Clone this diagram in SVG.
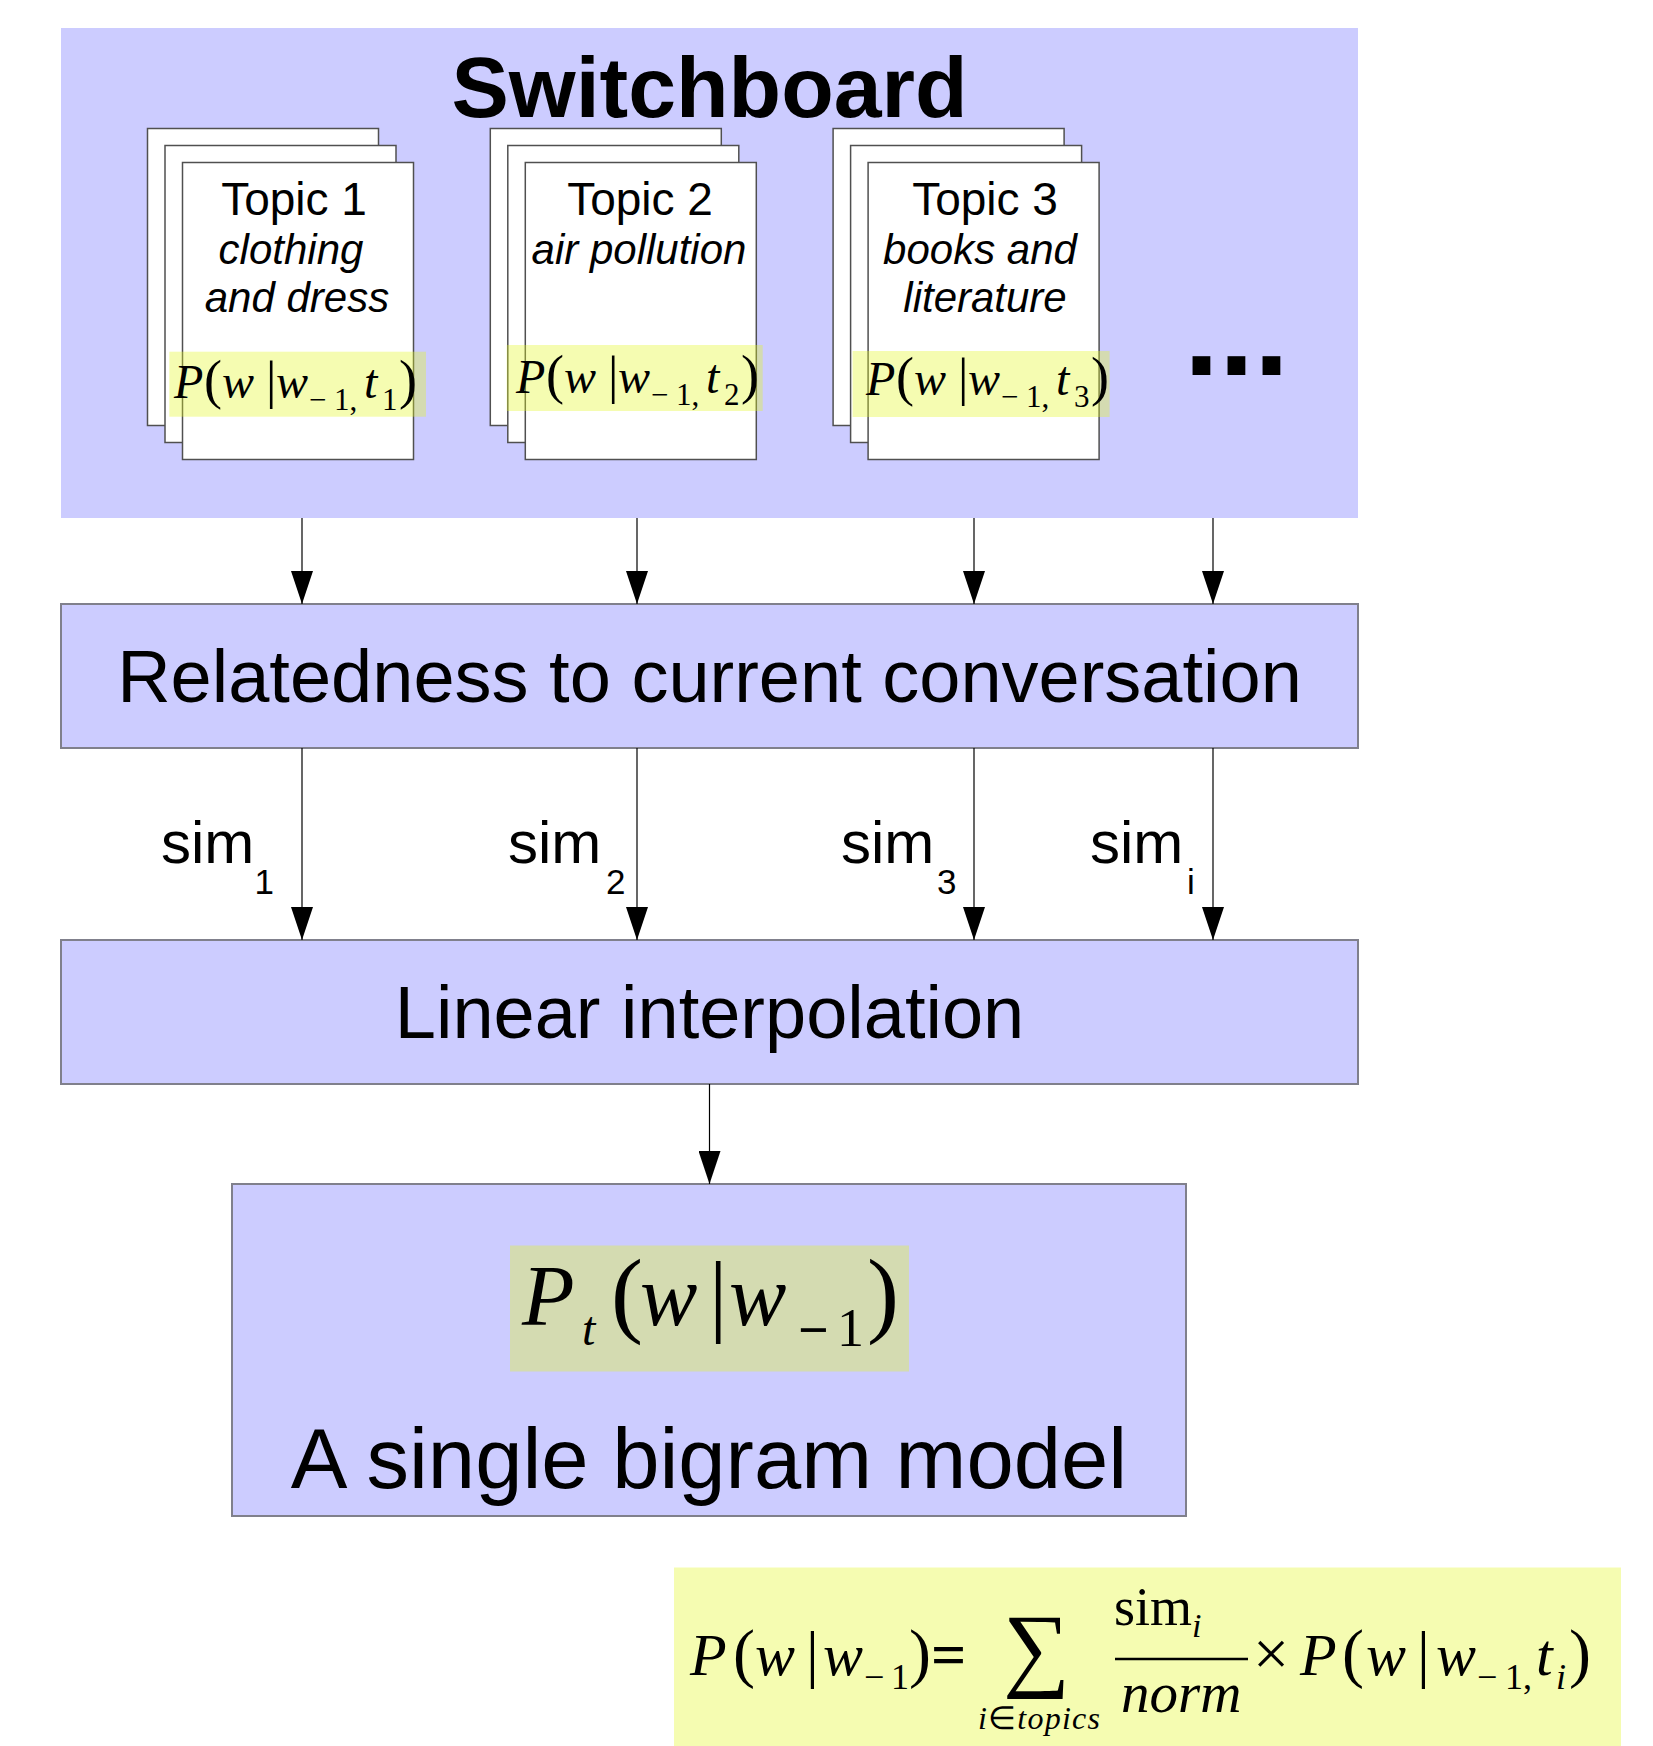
<svg xmlns="http://www.w3.org/2000/svg" width="1653" height="1746" viewBox="0 0 1653 1746">
<defs>
<style>
.panel{fill:#ccccff}
.box{fill:#ccccff;stroke:#80808c;stroke-width:2}
.card{fill:#ffffff;stroke:#505050;stroke-width:1.5}
.hl{fill:#e3f61f;fill-opacity:0.35}
.sans{font-family:"Liberation Sans",Arial,sans-serif;fill:#000}
.serif{font-family:"Liberation Serif","Times New Roman",serif;fill:#000}
.it{font-style:italic}
.mid{text-anchor:middle}
.conn line{stroke:#000;stroke-width:1.2}
</style>
<marker id="ah" viewBox="0 0 33 22" refX="33" refY="11" markerWidth="33" markerHeight="22" markerUnits="userSpaceOnUse" orient="auto">
<path d="M0,0 L33,11 L0,22 Z" fill="#000"/>
</marker>
</defs>
<rect width="1653" height="1746" fill="#ffffff"/>

<g id="switchboard">
<rect class="panel" x="61" y="28" width="1297" height="490"/>
<text class="sans mid" x="709.5" y="117" font-size="86" font-weight="bold">Switchboard</text>
<text class="sans" x="1184" y="375" font-size="126" font-weight="bold">...</text>
</g>

<g id="topic1">
<rect class="card" x="147.5" y="128.5" width="231" height="297"/>
<rect class="card" x="165" y="145.5" width="231" height="297"/>
<rect class="card" x="182.5" y="162.5" width="231" height="297"/>
<text class="sans mid" x="294" y="215" font-size="46">Topic 1</text>
<text class="sans mid it" x="291" y="263.5" font-size="42">clothing</text>
<text class="sans mid it" x="297" y="311.5" font-size="42">and dress</text>
<rect class="hl" x="169.3" y="351.7" width="256.7" height="65"/>
<text class="serif" font-size="48"><tspan class="it" x="174" y="398">P</tspan><tspan x="204" y="398" font-size="54">(</tspan><tspan class="it" x="222" y="398">w</tspan><tspan x="266" y="398" font-size="52">|</tspan><tspan class="it" x="276" y="398">w</tspan><tspan x="309" y="410" font-size="31">−</tspan><tspan x="334" y="410" font-size="31">1,</tspan><tspan class="it" x="364" y="398">t</tspan><tspan x="382" y="410" font-size="31">1</tspan><tspan x="399" y="398" font-size="54">)</tspan></text>
</g>

<g id="topic2">
<rect class="card" x="490.3" y="128.5" width="231" height="297"/>
<rect class="card" x="507.8" y="145.5" width="231" height="297"/>
<rect class="card" x="525.3" y="162.5" width="231" height="297"/>
<text class="sans mid" x="640" y="215" font-size="46">Topic 2</text>
<text class="sans mid it" x="639" y="263.5" font-size="42">air pollution</text>
<rect class="hl" x="506.7" y="345" width="256" height="66"/>
<g transform="translate(342,-5)">
<text class="serif" font-size="48"><tspan class="it" x="174" y="398">P</tspan><tspan x="204" y="398" font-size="54">(</tspan><tspan class="it" x="222" y="398">w</tspan><tspan x="266" y="398" font-size="52">|</tspan><tspan class="it" x="276" y="398">w</tspan><tspan x="309" y="410" font-size="31">−</tspan><tspan x="334" y="410" font-size="31">1,</tspan><tspan class="it" x="364" y="398">t</tspan><tspan x="382" y="410" font-size="31">2</tspan><tspan x="399" y="398" font-size="54">)</tspan></text>
</g>
</g>

<g id="topic3">
<rect class="card" x="833.1" y="128.5" width="231" height="297"/>
<rect class="card" x="850.6" y="145.5" width="231" height="297"/>
<rect class="card" x="868.1" y="162.5" width="231" height="297"/>
<text class="sans mid" x="985" y="215" font-size="46">Topic 3</text>
<text class="sans mid it" x="980" y="263.5" font-size="42">books and</text>
<text class="sans mid it" x="985" y="311.5" font-size="42">literature</text>
<rect class="hl" x="852.6" y="351" width="257" height="66"/>
<g transform="translate(692,-3)">
<text class="serif" font-size="48"><tspan class="it" x="174" y="398">P</tspan><tspan x="204" y="398" font-size="54">(</tspan><tspan class="it" x="222" y="398">w</tspan><tspan x="266" y="398" font-size="52">|</tspan><tspan class="it" x="276" y="398">w</tspan><tspan x="309" y="410" font-size="31">−</tspan><tspan x="334" y="410" font-size="31">1,</tspan><tspan class="it" x="364" y="398">t</tspan><tspan x="382" y="410" font-size="31">3</tspan><tspan x="399" y="398" font-size="54">)</tspan></text>
</g>
</g>

<g id="relatedness">
<rect class="box" x="61" y="604" width="1297" height="144"/>
<text class="sans mid" x="709.5" y="702" font-size="74">Relatedness to current conversation</text>
</g>

<g id="interpolation">
<rect class="box" x="61" y="940" width="1297" height="144"/>
<text class="sans mid" x="709.5" y="1038" font-size="74">Linear interpolation</text>
</g>

<g id="bigram">
<rect class="box" x="232" y="1184" width="954" height="332"/>
<rect class="hl" x="510" y="1245.5" width="399" height="126"/>
<text class="serif" font-size="86"><tspan class="it" x="522" y="1325">P</tspan><tspan class="it" x="582" y="1345" font-size="48">t</tspan><tspan x="611" y="1325" font-size="96">(</tspan><tspan class="it" x="640" y="1325">w</tspan><tspan x="709" y="1325" font-size="92">|</tspan><tspan class="it" x="729" y="1325">w</tspan><tspan x="798" y="1348" font-size="54" font-weight="bold">−</tspan><tspan x="837" y="1346" font-size="54">1</tspan><tspan x="867" y="1325" font-size="96">)</tspan></text>
<text class="sans mid" x="709" y="1488" font-size="85">A single bigram model</text>
</g>

<g id="formula">
<rect class="hl" x="674" y="1567.5" width="947" height="178.5"/>
<text class="serif" font-size="60"><tspan class="it" x="690" y="1675">P</tspan><tspan x="733" y="1675" font-size="66">(</tspan><tspan class="it" x="755" y="1675">w</tspan><tspan x="806" y="1675" font-size="64">|</tspan><tspan class="it" x="823" y="1675">w</tspan><tspan x="864" y="1689" font-size="36">−</tspan><tspan x="891" y="1689" font-size="36">1</tspan><tspan x="909" y="1675" font-size="66">)</tspan><tspan x="931" y="1675" font-size="62" font-weight="bold">=</tspan></text>
<text class="serif" x="1003" y="1679" font-size="94">∑</text>
<text class="serif" x="978" y="1729" font-size="32" textLength="122"><tspan class="it">i</tspan>∈<tspan class="it">topics</tspan></text>
<text class="serif" font-size="54"><tspan x="1114" y="1625">sim</tspan><tspan class="it" x="1192" y="1637" font-size="34">i</tspan></text>
<line x1="1115" y1="1659" x2="1248" y2="1659" stroke="#000" stroke-width="2.5"/>
<text class="serif it" x="1121" y="1712" font-size="57">norm</text>
<text class="serif" font-size="60"><tspan x="1253" y="1675" font-size="64">×</tspan><tspan class="it" x="1300" y="1675">P</tspan><tspan x="1342" y="1675" font-size="66">(</tspan><tspan class="it" x="1366" y="1675">w</tspan><tspan x="1417" y="1675" font-size="64">|</tspan><tspan class="it" x="1436" y="1675">w</tspan><tspan x="1477" y="1689" font-size="36">−</tspan><tspan x="1505" y="1689" font-size="36">1,</tspan><tspan class="it" x="1536" y="1675">t</tspan><tspan class="it" x="1556" y="1689" font-size="36">i</tspan><tspan x="1569" y="1675" font-size="66">)</tspan></text>
</g>

<g id="connectors" class="conn">
<line x1="302" y1="518" x2="302" y2="604" marker-end="url(#ah)"/>
<line x1="637" y1="518" x2="637" y2="604" marker-end="url(#ah)"/>
<line x1="974" y1="518" x2="974" y2="604" marker-end="url(#ah)"/>
<line x1="1213" y1="518" x2="1213" y2="604" marker-end="url(#ah)"/>
<line x1="302" y1="748" x2="302" y2="940" marker-end="url(#ah)"/>
<line x1="637" y1="748" x2="637" y2="940" marker-end="url(#ah)"/>
<line x1="974" y1="748" x2="974" y2="940" marker-end="url(#ah)"/>
<line x1="1213" y1="748" x2="1213" y2="940" marker-end="url(#ah)"/>
<line x1="709.5" y1="1084" x2="709.5" y2="1184" marker-end="url(#ah)"/>
<text class="sans" font-size="60"><tspan x="161" y="863">sim</tspan><tspan x="254.5" y="894" font-size="35">1</tspan></text>
<text class="sans" font-size="60"><tspan x="508" y="863">sim</tspan><tspan x="606" y="894" font-size="35">2</tspan></text>
<text class="sans" font-size="60"><tspan x="841" y="863">sim</tspan><tspan x="937" y="894" font-size="35">3</tspan></text>
<text class="sans" font-size="60"><tspan x="1090" y="863">sim</tspan><tspan x="1187" y="894" font-size="35">i</tspan></text>
</g>
</svg>
